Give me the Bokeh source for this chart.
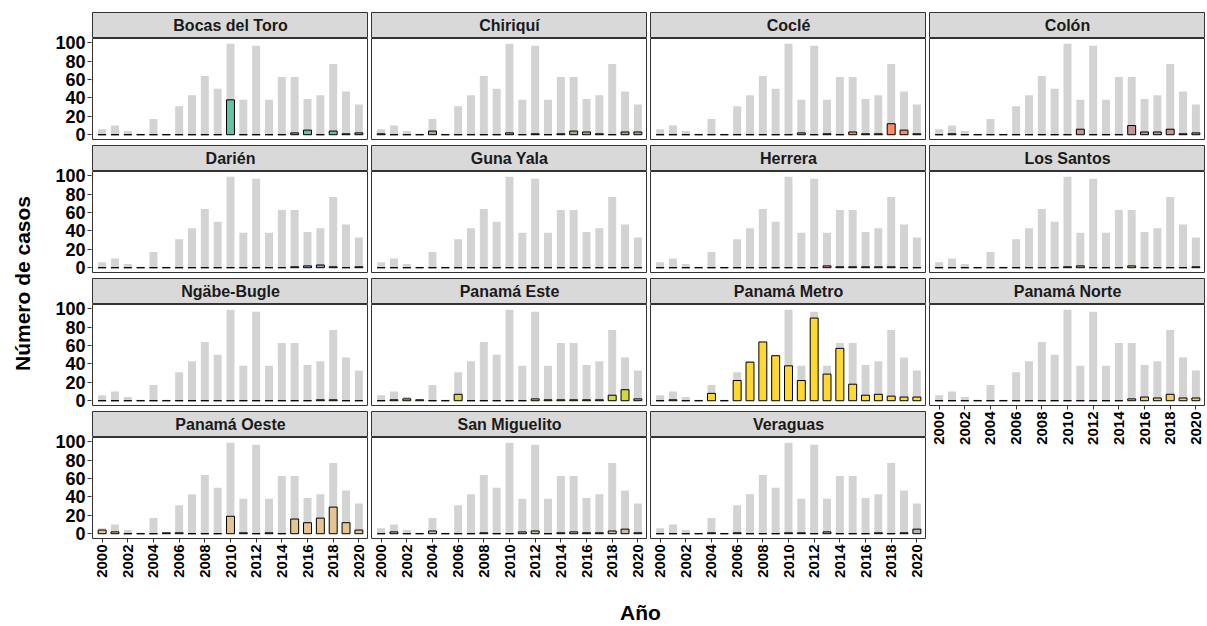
import math
from bokeh.plotting import figure
from bokeh.models import Range1d, FixedTicker, Label
from bokeh.layouts import row, column
from bokeh.embed import file_html
from bokeh.resources import INLINE

# ---------------- data ----------------
years = [2000, 2001, 2002, 2003, 2004, 2005, 2006, 2007, 2008, 2009, 2010,
         2011, 2012, 2013, 2014, 2015, 2016, 2017, 2018, 2019, 2020]
x_ticks = [2000, 2002, 2004, 2006, 2008, 2010, 2012, 2014, 2016, 2018, 2020]
y_ticks = [0, 20, 40, 60, 80, 100]

total = [6, 10, 4, 1, 17, 1, 31, 43, 64, 50, 99, 38, 97, 38, 63, 63, 39, 43, 77, 47, 33]

regions = ["Bocas del Toro", "Chiriquí", "Coclé", "Colón", "Darién", "Guna Yala",
           "Herrera", "Los Santos", "Ngäbe-Bugle", "Panamá Este", "Panamá Metro",
           "Panamá Norte", "Panamá Oeste", "San Miguelito", "Veraguas"]

bocas_del_toro = [0, 0, 0, 0, 0, 0, 0, 0, 0, 0, 38, 0, 0, 0, 0, 2, 5, 0, 4, 1, 2]
chiriqui       = [1, 0, 0, 0, 4, 0, 0, 0, 0, 0, 2, 0, 1, 0, 1, 4, 3, 1, 0, 3, 3]
cocle          = [0, 0, 0, 0, 0, 0, 0, 0, 0, 0, 0, 2, 0, 1, 0, 3, 1, 1, 12, 5, 1]
colon          = [0, 1, 0, 0, 0, 0, 0, 0, 0, 0, 0, 6, 0, 0, 0, 10, 3, 3, 6, 1, 2]
darien         = [0, 0, 0, 0, 0, 0, 0, 0, 0, 0, 0, 0, 0, 0, 0, 1, 2, 3, 1, 0, 1]
guna_yala      = [0, 0, 0, 0, 0, 0, 0, 0, 0, 0, 0, 0, 0, 0, 0, 0, 0, 0, 0, 0, 0]
herrera        = [0, 0, 0, 0, 0, 0, 0, 0, 0, 0, 0, 0, 0, 2, 1, 1, 1, 1, 1, 0, 0]
los_santos     = [0, 0, 0, 0, 0, 0, 0, 0, 0, 0, 1, 2, 0, 0, 0, 2, 0, 0, 0, 0, 1]
ngabe_bugle    = [0, 0, 0, 0, 0, 0, 0, 0, 0, 0, 0, 0, 0, 0, 0, 0, 0, 1, 1, 0, 0]
panama_este    = [0, 1, 2, 1, 0, 0, 7, 0, 0, 0, 0, 0, 2, 1, 1, 1, 1, 1, 6, 12, 2]
panama_metro   = [0, 1, 0, 0, 8, 0, 22, 42, 64, 49, 38, 22, 90, 29, 57, 18, 6, 7, 5, 4, 4]
panama_norte   = [0, 0, 0, 0, 0, 0, 0, 0, 0, 0, 0, 0, 0, 0, 0, 2, 4, 3, 7, 3, 3]
panama_oeste   = [4, 2, 0, 0, 0, 1, 1, 0, 0, 0, 19, 1, 0, 1, 0, 16, 12, 17, 29, 12, 4]
san_miguelito  = [0, 2, 0, 0, 3, 0, 0, 0, 1, 0, 0, 2, 3, 0, 1, 2, 1, 1, 3, 5, 1]
veraguas       = [0, 0, 0, 0, 1, 0, 1, 0, 0, 0, 1, 1, 0, 2, 0, 0, 0, 1, 0, 1, 5]

region_values = [bocas_del_toro, chiriqui, cocle, colon, darien, guna_yala, herrera,
                 los_santos, ngabe_bugle, panama_este, panama_metro, panama_norte,
                 panama_oeste, san_miguelito, veraguas]

region_colors = ["#66C2A5", "#B1A783", "#FC8D62", "#C49696", "#8DA0CB", "#BA95C7",
                 "#E78AC3", "#C6B18B", "#A6D854", "#D2D841", "#FFD92F", "#F2CE61",
                 "#E5C494", "#CCBBA3", "#B3B3B3"]

# ---------------- layout constants ----------------
FONT = "Liberation Sans"
NCOL = 4
PW = 276          # panel frame width
PH = 101          # panel frame height
SH = 26           # strip height
TOP0 = 12         # space above first row
GAP_V = 6         # vertical gap between rows (below panels)
GAP_H = 3         # horizontal gap between columns
YAX = 52          # room for y tick labels
XAX = 52          # room for x tick labels
YLAB_W = 40
BAR_W = 0.62
TOTAL_H = 625
Y_LO, Y_HI = -5.2, 104.8
X_LO, X_HI = 1999.25, 2020.75


def style_axis(ax):
    ax.axis_line_color = None
    ax.major_tick_line_color = "#333333"
    ax.major_tick_out = 4
    ax.major_tick_in = 0
    ax.minor_tick_line_color = None
    ax.major_label_standoff = 2
    ax.major_label_text_font = FONT
    ax.major_label_text_font_style = "bold"
    ax.major_label_text_color = "black"


def make_strip(name, left, top):
    s = figure(width=left + PW, height=top + SH,
               x_range=Range1d(0, 1), y_range=Range1d(0, 1),
               x_axis_location=None, y_axis_location=None,
               toolbar_location=None, output_backend="svg",
               min_border_left=left, min_border_top=top,
               min_border_right=0, min_border_bottom=0,
               background_fill_color="#D9D9D9", border_fill_color="white",
               outline_line_color="#333333", outline_line_width=1)
    s.grid.visible = False
    s.add_layout(Label(x=0.5, y=0.5, text=name, text_align="center",
                       text_baseline="middle", text_font=FONT,
                       text_font_size="16px", text_font_style="bold",
                       text_color="#1A1A1A"))
    return s


def make_panel(i, left, show_x):
    bottom = XAX if show_x else GAP_V
    p = figure(width=left + PW, height=PH + bottom,
               x_range=Range1d(X_LO, X_HI), y_range=Range1d(Y_LO, Y_HI),
               x_axis_location="below" if show_x else None,
               y_axis_location=None,
               toolbar_location=None, output_backend="svg",
               min_border_left=left, min_border_bottom=bottom,
               min_border_top=0, min_border_right=0,
               background_fill_color="white", border_fill_color="white",
               outline_line_color="#333333", outline_line_width=1)
    p.grid.visible = False
    p.vbar(x=years, top=total, width=BAR_W, fill_color="#D3D3D3", line_color=None)
    p.vbar(x=years, top=region_values[i], width=BAR_W, fill_color=region_colors[i],
           line_color="black", line_width=1)
    if show_x:
        ax = p.xaxis[0]
        ax.ticker = FixedTicker(ticks=x_ticks)
        style_axis(ax)
        ax.major_label_text_font_size = "15px"
        ax.major_label_orientation = math.pi / 2
    return p


def make_yaxis_fig(top, bottom):
    # narrow figure holding only the y axis; its frame lines up with the panel frame
    a = figure(width=YAX, height=top + SH + PH + bottom,
               x_range=Range1d(0, 1), y_range=Range1d(Y_LO, Y_HI),
               x_axis_location=None, y_axis_location="left",
               toolbar_location=None, output_backend="svg",
               min_border_left=YAX - 1, min_border_right=0,
               min_border_top=top + SH, min_border_bottom=bottom,
               background_fill_color="white", border_fill_color="white",
               outline_line_color=None)
    a.grid.visible = False
    ax = a.yaxis[0]
    ax.ticker = FixedTicker(ticks=y_ticks)
    style_axis(ax)
    ax.major_label_text_font_size = "18px"
    return a


n = len(regions)
nrows = (n + NCOL - 1) // NCOL
cols = []
for c in range(NCOL):
    items = []
    axis_items = []
    idxs = [r * NCOL + c for r in range(nrows) if r * NCOL + c < n]
    left = 0 if c == 0 else GAP_H
    for k, i in enumerate(idxs):
        top = TOP0 if k == 0 else 0
        last = (k == len(idxs) - 1)
        items.append(make_strip(regions[i], left, top))
        items.append(make_panel(i, left, show_x=last))
        if c == 0:
            axis_items.append(make_yaxis_fig(top, XAX if last else GAP_V))
    panel_col = column(*items, spacing=0)
    if c == 0:
        cols.append(row(column(*axis_items, spacing=0), panel_col, spacing=0))
    else:
        cols.append(panel_col)

grid_h = TOP0 + nrows * (SH + PH) + (nrows - 1) * GAP_V + XAX
ylab_center_from_top = 283.0

ylab = figure(width=YLAB_W, height=grid_h, x_range=Range1d(0, 1), y_range=Range1d(0, 1),
              x_axis_location=None, y_axis_location=None, toolbar_location=None,
              output_backend="svg", min_border=0, outline_line_color=None,
              border_fill_color="white", background_fill_color="white")
ylab.grid.visible = False
ylab.add_layout(Label(x=22.0 / YLAB_W, y=1 - ylab_center_from_top / grid_h,
                      text="Número de casos",
                      angle=math.pi / 2, text_align="center", text_baseline="middle",
                      text_font=FONT, text_font_size="21px", text_font_style="bold",
                      text_color="black"))

total_w = YLAB_W + YAX + PW + (NCOL - 1) * (GAP_H + PW)
xlab_h = TOTAL_H - grid_h
xlab = figure(width=total_w, height=xlab_h, x_range=Range1d(0, 1), y_range=Range1d(0, 1),
              x_axis_location=None, y_axis_location=None, toolbar_location=None,
              output_backend="svg", min_border=0, outline_line_color=None,
              border_fill_color="white", background_fill_color="white")
xlab.grid.visible = False
xlab.add_layout(Label(x=640.0 / total_w, y=13.0 / xlab_h, text="Año",
                      text_align="center", text_baseline="middle",
                      text_font=FONT, text_font_size="21px", text_font_style="bold",
                      text_color="black"))

layout = column(row(ylab, *cols, spacing=0), xlab, spacing=0)

with open("out.html", "w") as f:
    f.write(file_html(layout, INLINE))
